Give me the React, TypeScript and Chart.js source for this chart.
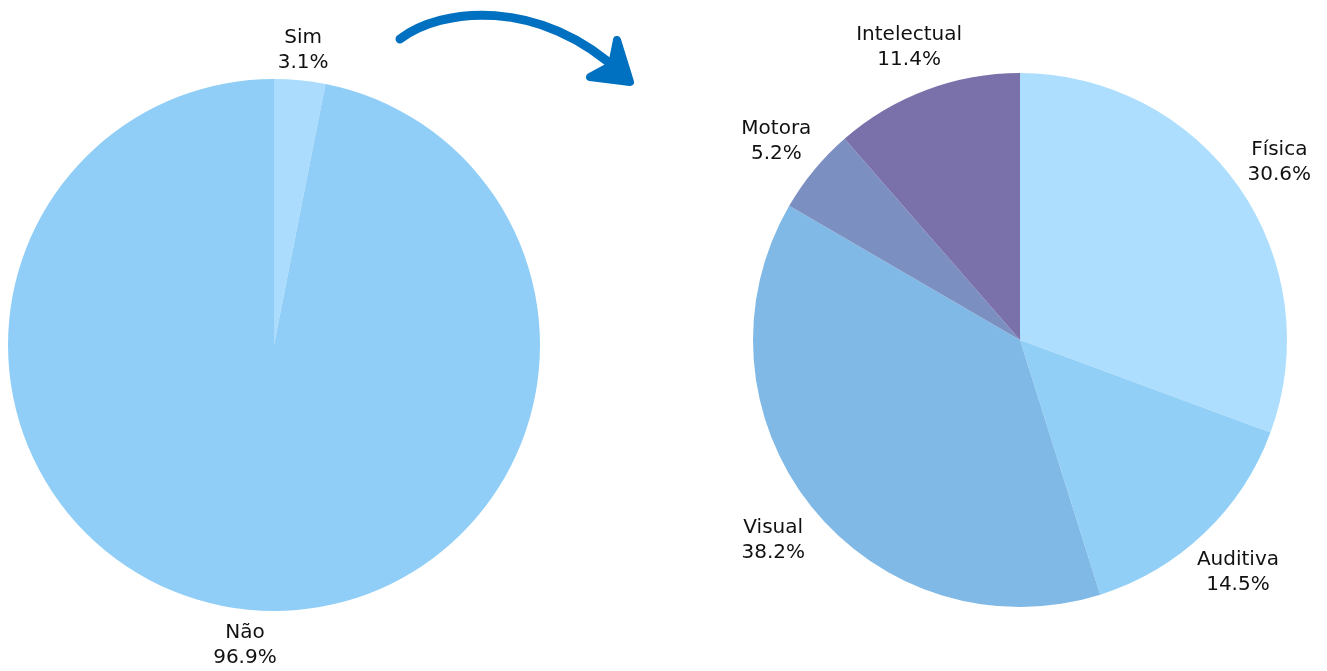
import React, { useEffect, useRef } from "react";
import { Chart, registerables } from "chart.js";

Chart.register(...registerables);

const leftCategories = ["Sim", "Não"];
const leftValues = [3.1, 96.9];
const leftColors = ["#abdcfd", "#90cef7"];

const rightCategories = ["Física", "Auditiva", "Visual", "Motora", "Intelectual"];
const rightValues = [30.6, 14.5, 38.2, 5.2, 11.4];
const rightColors = ["#addefe", "#91cff7", "#80b9e6", "#7b8fc1", "#7a71ab"];

const FONT = '"DejaVu Sans", sans-serif';

const makeLabelPlugin = (labelRadius: number, drawArrow: boolean) => ({
  id: "outerLabels",
  afterDatasetsDraw(chart: any) {
    const ctx = chart.ctx;
    const meta = chart.getDatasetMeta(0);
    const labels = chart.data.labels as string[];
    const values = chart.data.datasets[0].data as number[];
    ctx.save();
    ctx.fillStyle = "#111111";
    ctx.textAlign = "center";
    ctx.textBaseline = "middle";
    meta.data.forEach((arc: any, i: number) => {
      const p = arc.getProps(["x", "y", "startAngle", "endAngle"], true);
      const mid = (p.startAngle + p.endAngle) / 2;
      const x = p.x + Math.cos(mid) * labelRadius;
      const y = p.y + Math.sin(mid) * labelRadius + 3;
      ctx.font = `500 20px ${FONT}`;
      ctx.fillText(labels[i], x, y - 12.5);
      ctx.font = `400 20px ${FONT}`;
      ctx.fillText(values[i].toFixed(1) + "%", x, y + 12.5);
    });
    if (drawArrow) {
      ctx.strokeStyle = "#0070c0";
      ctx.fillStyle = "#0070c0";
      ctx.lineCap = "round";
      ctx.lineJoin = "round";
      ctx.lineWidth = 9;
      ctx.beginPath();
      ctx.moveTo(400, 39);
      ctx.bezierCurveTo(440, 8, 540, -4, 622, 74);
      ctx.stroke();
      ctx.lineWidth = 8;
      ctx.beginPath();
      ctx.moveTo(617, 40);
      ctx.lineTo(630, 82);
      ctx.lineTo(590, 77);
      ctx.lineTo(612, 65);
      ctx.closePath();
      ctx.fill();
      ctx.stroke();
    }
    ctx.restore();
  },
});

function PieCanvas(props: {
  width: number;
  height: number;
  categories: string[];
  values: number[];
  colors: string[];
  radius: number;
  padding: { left: number; right: number; top: number; bottom: number };
  labelRadius: number;
  arrow: boolean;
}) {
  const ref = useRef<HTMLCanvasElement | null>(null);
  useEffect(() => {
    if (!ref.current) return;
    const chart = new Chart(ref.current, {
      type: "pie",
      data: {
        labels: props.categories,
        datasets: [
          {
            data: props.values,
            backgroundColor: props.colors,
            borderWidth: 0,
            hoverOffset: 0,
          },
        ],
      },
      options: {
        responsive: false,
        animation: false,
        devicePixelRatio: 1,
        radius: props.radius,
        layout: { padding: props.padding },
        plugins: {
          legend: { display: false },
          tooltip: { enabled: false },
        },
      } as any,
      plugins: [makeLabelPlugin(props.labelRadius, props.arrow)],
    });
    return () => chart.destroy();
  }, []);
  return (
    <canvas
      ref={ref}
      width={props.width}
      height={props.height}
      style={{ display: "block", width: props.width, height: props.height }}
    />
  );
}

export default function App() {
  return (
    <div
      style={{
        position: "fixed",
        left: 0,
        top: 0,
        width: 1327,
        height: 671,
        background: "#ffffff",
        display: "flex",
      }}
    >
      <PieCanvas
        width={660}
        height={671}
        categories={leftCategories}
        values={leftValues}
        colors={leftColors}
        radius={266}
        padding={{ left: 0, right: 112, top: 19, bottom: 0 }}
        labelRadius={299}
        arrow={true}
      />
      <PieCanvas
        width={667}
        height={671}
        categories={rightCategories}
        values={rightValues}
        colors={rightColors}
        radius={267}
        padding={{ left: 53, right: 0, top: 9, bottom: 0 }}
        labelRadius={316}
        arrow={false}
      />
    </div>
  );
}
